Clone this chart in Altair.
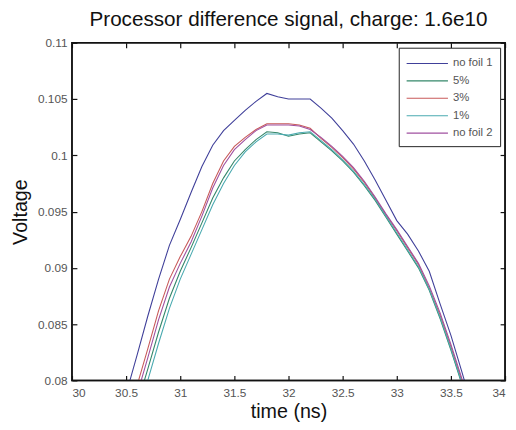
import altair as alt
import pandas as pd

# time axis samples (ns)
time_ns = [30.4, 30.5, 30.6, 30.7, 30.8, 30.9, 31.0, 31.1, 31.2, 31.3, 31.4, 31.5,
           31.6, 31.7, 31.8, 31.9, 32.0, 32.1, 32.2, 32.3, 32.4, 32.5, 32.6, 32.7,
           32.8, 32.9, 33.0, 33.1, 33.2, 33.3, 33.4, 33.5, 33.6, 33.7]

no_foil_1 = [0.0755, 0.0788, 0.0822, 0.0857, 0.0890, 0.0920, 0.0943, 0.0967, 0.0990, 0.1009,
             0.1022, 0.1031, 0.1040, 0.1048, 0.1055, 0.1052, 0.1050, 0.1050, 0.1050, 0.1042,
             0.1033, 0.1022, 0.1010, 0.0995, 0.0978, 0.0960, 0.0942, 0.0930, 0.0915, 0.0897,
             0.0868, 0.0840, 0.0808, 0.0775]
pct_5 = [0.0715, 0.0745, 0.0778, 0.0810, 0.0843, 0.0873, 0.0897, 0.0918, 0.0940, 0.0962,
         0.0980, 0.0995, 0.1005, 0.1014, 0.1021, 0.1020, 0.1017, 0.1019, 0.1020, 0.1012,
         0.1004, 0.0995, 0.0985, 0.0973, 0.0960, 0.0945, 0.0930, 0.0915, 0.0900, 0.0880,
         0.0855, 0.0827, 0.0797, 0.0767]
pct_3 = [0.0730, 0.0762, 0.0795, 0.0828, 0.0862, 0.0890, 0.0910, 0.0928, 0.0950, 0.0975,
         0.0995, 0.1008, 0.1016, 0.1023, 0.1028, 0.1028, 0.1028, 0.1027, 0.1024, 0.1015,
         0.1007, 0.0998, 0.0988, 0.0976, 0.0962, 0.0947, 0.0933, 0.0918, 0.0903, 0.0882,
         0.0858, 0.0830, 0.0800, 0.0770]
pct_1 = [0.0705, 0.0735, 0.0767, 0.0800, 0.0833, 0.0864, 0.0890, 0.0912, 0.0934, 0.0956,
         0.0975, 0.0991, 0.1003, 0.1012, 0.1019, 0.1019, 0.1018, 0.1020, 0.1021, 0.1013,
         0.1005, 0.0996, 0.0986, 0.0974, 0.0961, 0.0946, 0.0931, 0.0916, 0.0901, 0.0881,
         0.0856, 0.0828, 0.0798, 0.0768]
no_foil_2 = [0.0722, 0.0754, 0.0787, 0.0820, 0.0854, 0.0883, 0.0904, 0.0923, 0.0946, 0.0971,
             0.0991, 0.1005, 0.1014, 0.1022, 0.1027, 0.1027, 0.1027, 0.1026, 0.1023, 0.1016,
             0.1008, 0.0999, 0.0989, 0.0977, 0.0963, 0.0948, 0.0934, 0.0919, 0.0904, 0.0884,
             0.0860, 0.0832, 0.0802, 0.0772]

series_names = ["no foil 1", "5%", "3%", "1%", "no foil 2"]
series_values = [no_foil_1, pct_5, pct_3, pct_1, no_foil_2]
series_colors = ["#40409a", "#35876a", "#c85a5a", "#4aaab0", "#a050a0"]

x_ticks = [30, 30.5, 31, 31.5, 32, 32.5, 33, 33.5, 34]
y_ticks = [0.08, 0.085, 0.09, 0.095, 0.1, 0.105, 0.11]

rows = []
for i, (name, vals) in enumerate(zip(series_names, series_values)):
    for t, v in zip(time_ns, vals):
        rows.append({"time": t, "voltage": v, "series": name, "order": i})
df = pd.DataFrame(rows)

FONT = "Liberation Sans"
TICKFONT = "Liberation Sans Narrow, Liberation Sans"
INK = "#111111"

xscale = alt.Scale(domain=[x_ticks[0], x_ticks[-1]], nice=False, zero=False)
yscale = alt.Scale(domain=[y_ticks[0], y_ticks[-1]], nice=False, zero=False)

main = alt.Chart(df).mark_line(clip=True, strokeWidth=1.1).encode(
    x=alt.X("time:Q", scale=xscale,
            axis=alt.Axis(values=x_ticks, format="~g", title="time (ns)", grid=False,
                          domain=False, offset=-5, tickSize=5, tickColor=INK, tickWidth=1.2,
                          labelPadding=7, labelFont=TICKFONT, labelFontSize=12,
                          labelColor="#555", titleFont=FONT, titleFontSize=20,
                          titleFontWeight="normal", titleColor="#111", titlePadding=4)),
    y=alt.Y("voltage:Q", scale=yscale,
            axis=alt.Axis(values=y_ticks, format="~g", title="Voltage", grid=False,
                          domain=False, offset=-5, tickSize=5, tickColor=INK, tickWidth=1.2,
                          labelPadding=5, labelFont=TICKFONT, labelFontSize=12,
                          labelColor="#555", titleFont=FONT, titleFontSize=20,
                          titleFontWeight="normal", titleColor="#111", titlePadding=7)),
    color=alt.Color("series:N",
                    scale=alt.Scale(domain=series_names, range=series_colors),
                    legend=alt.Legend(title=None, orient="none", legendX=332, legendY=5,
                                      symbolType="M-1,0H4.25", symbolSize=256,
                                      symbolStrokeWidth=1.1, labelOffset=30,
                                      labelFont=TICKFONT, labelFontSize=11.5,
                                      labelColor="#555", rowPadding=2.7,
                                      padding=7, strokeColor="#222", fillColor="white",
                                      cornerRadius=0)),
    detail="series:N",
    order=alt.Order("order:Q"),
)

frame_ticks = alt.Chart(df).mark_line(opacity=0).encode(
    x=alt.X("time:Q", scale=xscale,
            axis=alt.Axis(orient="top", values=x_ticks, labels=False, title=None, grid=False,
                          domain=False, offset=-5, tickSize=5, tickColor=INK, tickWidth=1.2)),
    y=alt.Y("voltage:Q", scale=yscale,
            axis=alt.Axis(orient="right", values=y_ticks, labels=False, title=None, grid=False,
                          domain=False, offset=-5, tickSize=5, tickColor=INK, tickWidth=1.2)),
    detail="series:N",
)

box = alt.Chart(pd.DataFrame({"k": [0]})).mark_rect(
    fill="transparent", stroke=INK, strokeWidth=1.5
).encode(
    x=alt.XDatum(x_ticks[0], scale=xscale, axis=None),
    x2=alt.X2Datum(x_ticks[-1]),
    y=alt.YDatum(y_ticks[0], scale=yscale, axis=None),
    y2=alt.Y2Datum(y_ticks[-1]),
)

chart = alt.layer(frame_ticks, main, box).resolve_axis(x="independent", y="independent").properties(
    width=440,
    height=343,
    title=alt.TitleParams("Processor difference signal, charge: 1.6e10", font=FONT,
                          fontSize=21, fontWeight="normal", color="#111", offset=7),
    autosize=alt.AutoSizeParams(type="none"),
    padding={"left": 65, "top": 32, "right": 3, "bottom": 45},
    background="white",
).configure_view(stroke=INK, strokeWidth=1.5)

chart.save("out.html", embed_options={"renderer": "svg", "actions": False})
